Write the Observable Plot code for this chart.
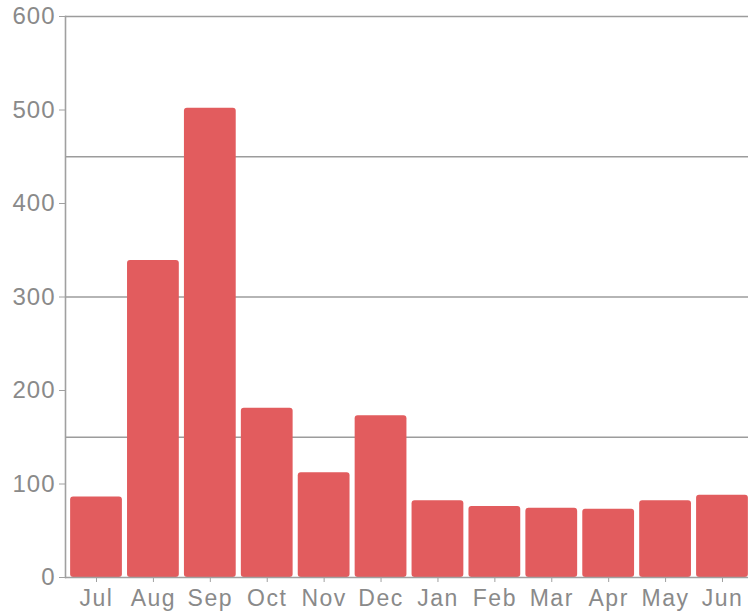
<!DOCTYPE html>
<html>
<head>
<meta charset="utf-8">
<script src="https://cdn.jsdelivr.net/npm/d3@7"></script>
<script src="https://cdn.jsdelivr.net/npm/@observablehq/plot@0.6"></script>
<style>
  html, body { margin: 0; padding: 0; background: #fff; }
  .xax text { letter-spacing: 1.5px; }
  .yax text { letter-spacing: 1px; }
</style>
</head>
<body>
<div id="chart"></div>
<script>
const months = ["Jul","Aug","Sep","Oct","Nov","Dec","Jan","Feb","Mar","Apr","May","Jun"];
const values = [86, 339, 502, 181, 112, 173, 82, 76, 74, 73, 82, 88];
const yTicks = [0, 100, 200, 300, 400, 500, 600];
const gridLines = [150, 300, 450, 600];

const data = months.map((m, i) => ({month: m, value: values[i]}));

const chart = Plot.plot({
  width: 748,
  height: 615,
  marginLeft: 65,
  marginRight: 0,
  marginTop: 16,
  marginBottom: 38,
  style: {fontFamily: "'Liberation Sans', Arial, sans-serif", fontSize: "22px", color: "#8a8a8a", background: "#fff"},
  x: {domain: months, range: [65, 753], round: false, paddingInner: 0.09, paddingOuter: 0.09, label: null},
  y: {domain: [0, 600], label: null},
  marks: [
    Plot.ruleY(gridLines, {stroke: "#9c9c9c", strokeWidth: 1.6}),
    Plot.barY(data, {x: "month", y: "value", fill: "#e25c5e", rx: 3}),
    Plot.frame({anchor: "left", stroke: "#a0a0a0", strokeWidth: 1.6}),
    Plot.ruleY([0], {stroke: "#a0a0a0", strokeWidth: 1.6}),
    Plot.axisY(yTicks, {tickSize: 6, tickPadding: 4, stroke: "#a0a0a0", fill: "#8a8a8a", fontSize: 24, label: null, className: "yax"}),
    Plot.axisX({tickSize: 5, tickPadding: 7, stroke: "#a0a0a0", fill: "#8a8a8a", fontSize: 23, label: null, className: "xax"})
  ]
});
document.getElementById("chart").appendChild(chart);
</script>
</body>
</html>
